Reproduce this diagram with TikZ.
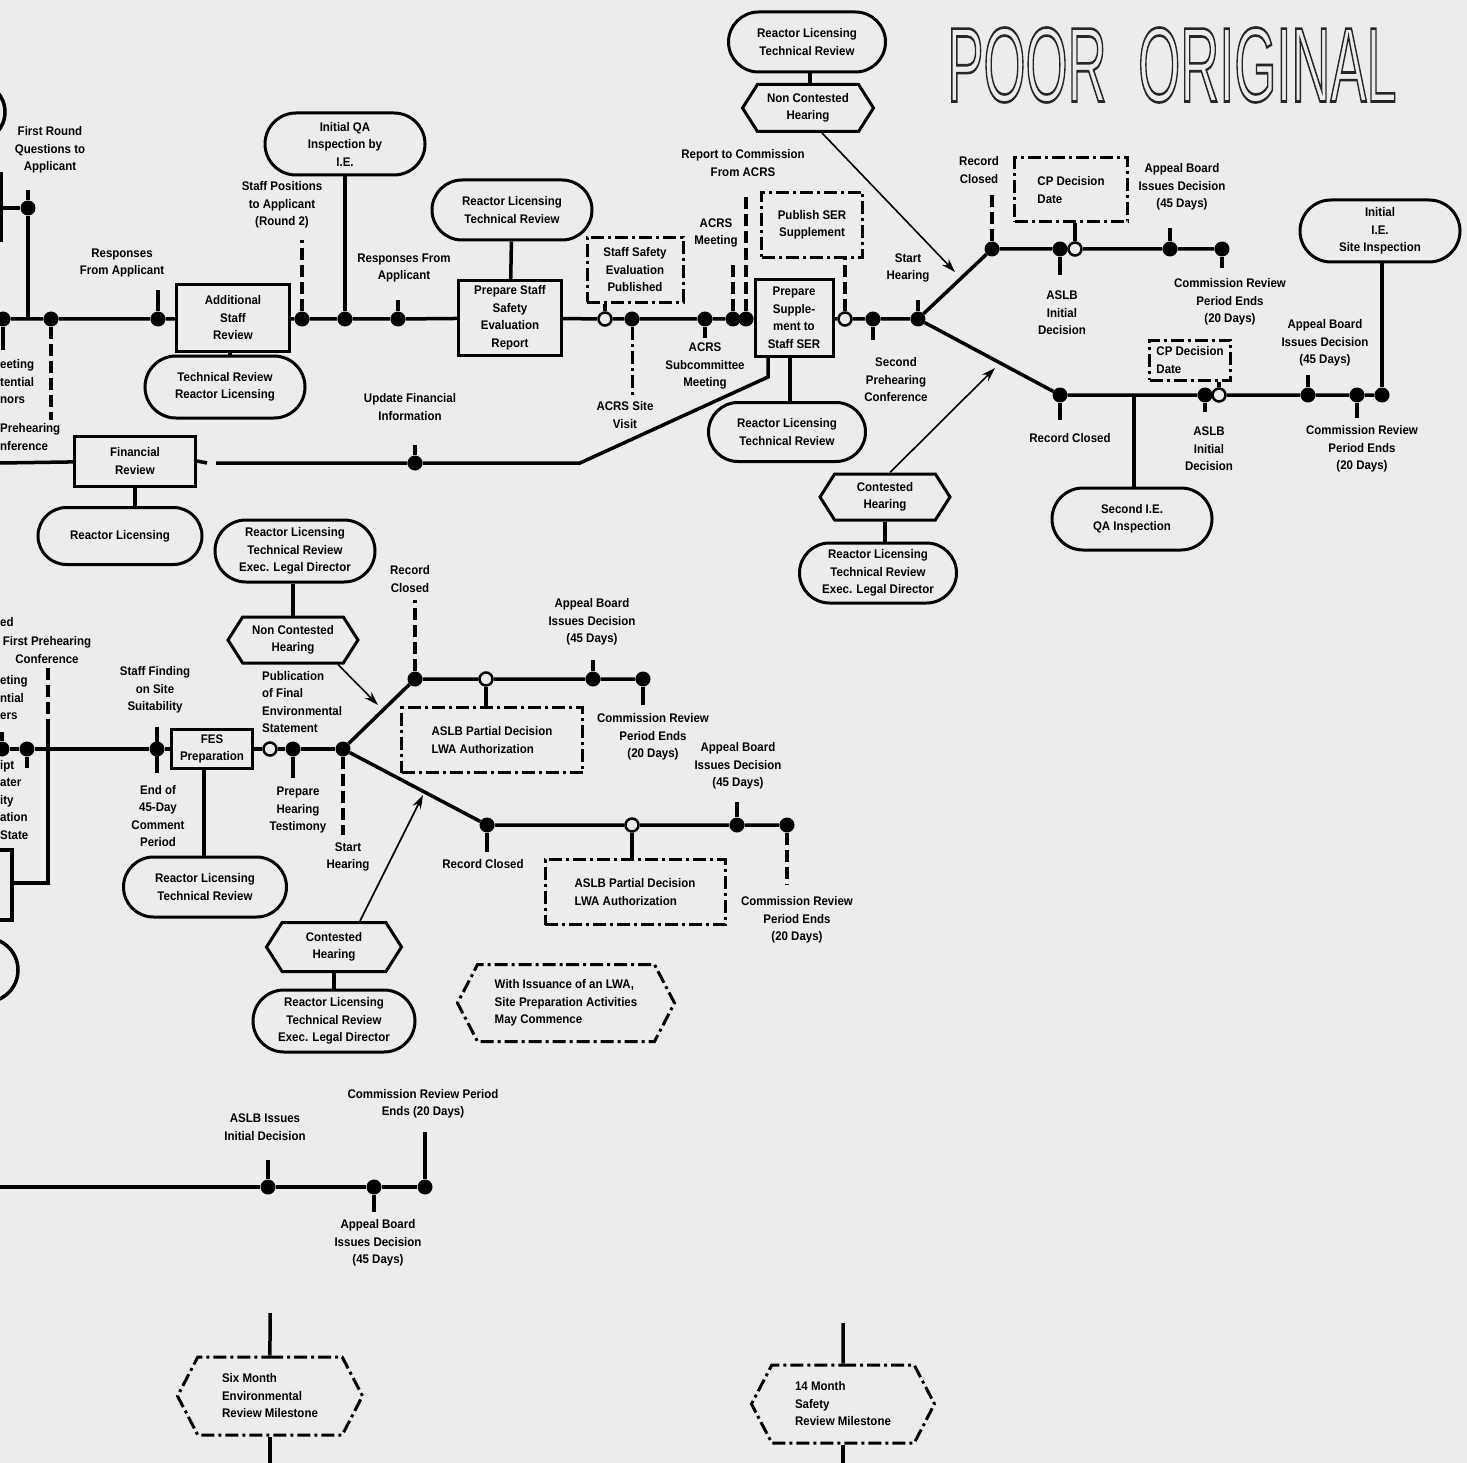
\documentclass[tikz,border=0pt]{standalone}
\usepackage{fontspec}
\usepackage{graphicx}
\newfontfamily\lf{Liberation Sans}[FakeStretch=0.92]
\newfontfamily\lfr{Liberation Sans}
\usetikzlibrary{shapes.misc,shapes.symbols,arrows.meta}
\definecolor{bg}{RGB}{236,236,236}
\newcommand{\lfont}{\lf\bfseries\fontsize{12.5}{17.5}\selectfont}
\newcommand{\poortext}{\scalebox{0.51}[1]{\lfr\fontsize{106}{106}\selectfont POOR\hspace{62pt}ORIGINAL}}
\tikzset{
  ln/.style={line width=3.5pt},
  thinarr/.style={line width=1.6pt,-{Stealth[length=14pt,width=9pt]}},
  ddash/.style={line width=3pt,dash pattern=on 13pt off 4pt on 3pt off 4pt},
  dsh/.style={line width=3.5pt,dash pattern=on 12pt off 5pt},
  bdot/.style={circle,fill=black,inner sep=0pt,minimum size=15pt},
  odot/.style={circle,draw=black,fill=bg,line width=2.5pt,inner sep=0pt,minimum size=13pt},
  sbox/.style={draw,line width=3pt,align=center,font=\lfont,inner sep=0pt},
  ddbox/.style={draw,ddash,align=center,font=\lfont,inner sep=0pt},
  term/.style={draw,rounded rectangle,line width=3pt,align=center,font=\lfont,inner sep=0pt},
  hexa/.style={draw,signal,signal to=east and west,signal pointer angle=115,line width=3pt,align=center,font=\lfont,inner sep=0pt},
  ddhex/.style={hexa,ddash,signal pointer angle=125,align=left},
  lbl/.style={align=center,font=\lfont,inner sep=0pt},
  lbll/.style={align=left,font=\lfont,inner sep=0pt,anchor=west},
  poor/.style={inner sep=0pt},
}
\begin{document}
\begin{tikzpicture}[x=1pt,y=-1pt]
\useasboundingbox (0,0) rectangle (1467,1463);
\fill[bg] (0,0) rectangle (1467,1463);
\clip (0,0) rectangle (1467,1463);

% ---------- POOR ORIGINAL stamp (outlined text) ----------
\node[poor,text=black!85] (stamp) at (1172,65) {\special{pdf:literal direct 1 Tr 2.6 w}\poortext\special{pdf:literal direct 0 Tr}};

% ---------- top section shapes ----------
\node[term,minimum width=160pt,minimum height=62pt] (qa) at (345,144) {Initial QA\\Inspection by\\I.E.};
\node[sbox,minimum width=113pt,minimum height=66pt] (asr) at (233,318) {Additional\\Staff\\Review};
\node[term,minimum width=160pt,minimum height=62pt] (tr1) at (225,387) {Technical Review\\Reactor Licensing};
\node[term,minimum width=160pt,minimum height=60pt] (rl2) at (512,210) {Reactor Licensing\\Technical Review};
\node[sbox,minimum width=103pt,minimum height=74pt] (pss) at (510,318) {Prepare Staff\\Safety\\Evaluation\\Report};
\node[ddbox,minimum width=96pt,minimum height=65pt] (sse) at (635,270) {Staff Safety\\Evaluation\\Published};
\node[sbox,minimum width=78pt,minimum height=77pt] (psup) at (794,318) {Prepare\\Supple-\\ment to\\Staff SER};
\node[ddbox,minimum width=101pt,minimum height=65pt] (pub) at (812,225) {Publish SER\\Supplement};
\node[term,minimum width=157pt,minimum height=59pt] (rl3) at (787,432) {Reactor Licensing\\Technical Review};
\node[term,minimum width=157pt,minimum height=60pt] (rl4) at (807,42) {Reactor Licensing\\Technical Review};
\node[hexa,minimum width=131pt,minimum height=47pt] (nch1) at (808,108) {Non Contested\\Hearing};
\node[sbox,minimum width=121pt,minimum height=50pt] (fin) at (135,461) {Financial\\Review};
\node[term,minimum width=164pt,minimum height=57pt] (rlf) at (120,536) {Reactor Licensing};
\node[ddbox,align=left,minimum width=113pt,minimum height=64pt] (cp1) at (1071,190) {CP Decision\\Date};
\node[ddbox,align=left,minimum width=81pt,minimum height=40pt] (cp2) at (1190,360) {CP Decision\\Date};
\node[term,minimum width=160pt,minimum height=62pt] (sqa) at (1132,519) {Second I.E.\\QA Inspection};
\node[term,minimum width=160pt,minimum height=62pt] (ies) at (1380,231) {Initial\\I.E.\\Site Inspection};
\node[hexa,minimum width=130pt,minimum height=46pt] (ch1) at (885,497) {Contested\\Hearing};
\node[term,minimum width=157pt,minimum height=60pt] (rl5) at (878,573) {Reactor Licensing\\Technical Review\\Exec. Legal Director};

% left edge fragments (top)
\draw[ln] (-25,112) circle[radius=30pt];
\draw[ln] (1,172) -- (1,242);

% ---------- top main line ----------
\node[bdot] (d0) at (3,319) {};
\node[bdot] (d1) at (28,208) {};
\node[bdot] (d2) at (51,319) {};
\node[bdot] (d3) at (158,319) {};
\node[bdot] (d4) at (302,319) {};
\node[bdot] (d5) at (345,319) {};
\node[bdot] (d6) at (398,319) {};
\node[odot] (o1) at (605,319) {};
\node[bdot] (d7) at (632,319) {};
\node[bdot] (d8) at (705,319) {};
\node[bdot] (d9) at (733,319) {};
\node[bdot] (d10) at (746,319) {};
\node[odot] (o2) at (845,319) {};
\node[bdot] (d11) at (873,319) {};
\node[bdot] (fk1) at (918,319) {};
\coordinate (j1) at (28,319);
\draw[ln] (0,319) -- (d0) -- (d2) -- (d3) -- (asr) -- (d4) -- (d5) -- (d6) -- (pss) -- (o1) -- (d7) -- (d8) -- (d9) -- (d10) -- (psup) -- (o2) -- (d11) -- (fk1);
\draw[ln] (d0) -- (3,350);
\draw[ln] (0,208) -- (d1) -- (j1);
\draw[ln] (d1) -- (28,190);
\draw[dsh] (d2) -- (51,420);
\draw[ln] (d3) -- (158,290);
\draw[dsh] (d4) -- (302,240);
\draw[ln] (d5) -- (qa);
\draw[ln] (d6) -- (398,300);
\draw[ln] (o1) -- (o1 |- sse.south);
\draw[ddash] (d7) -- (632,395);
\draw[ln] (d8) -- (705,338);
\draw[dsh] (d9) -- (733,265);
\draw[dsh] (d10) -- (746,195);
\draw[dsh] (o2) -- (o2 |- pub.south);
\draw[ln] (d11) -- (873,340);
\draw[ln] (fk1) -- (918,300);
\draw[ln] ([xshift=-3pt]asr.south) -- ([xshift=-3pt]asr.south |- tr1.north);
\draw[ln] (rl2) -- (pss);
\draw[ln] ([xshift=-4pt]psup.south) -- ([xshift=-4pt]psup.south |- rl3.north);
\draw[ln] ([xshift=3pt]rl4.south) -- ([xshift=3pt]rl4.south |- nch1.north);
\draw[ln] (fin.south) -- (fin.south |- rlf.north);
\draw[ln] (ch1.south) -- (ch1.south |- rl5.north);

% ---------- financial line ----------
\node[bdot] (d12) at (415,463) {};
\coordinate (fa) at (216,463);
\coordinate (fb) at (580,463);
\coordinate (fc) at (768,377);
\draw[ln] (0,463) -- (fin);
\draw[ln] (fin.east) -- (207,463);
\draw[ln] (fa) -- (d12) -- (fb) -- (fc) -- (fc |- psup.south);
\draw[ln] (d12) -- (415,445);

% ---------- upper branch (top) ----------
\node[bdot] (u1) at (992,249) {};
\node[bdot] (u2) at (1060,249) {};
\node[odot] (uo) at (1075,249) {};
\node[bdot] (u3) at (1170,249) {};
\node[bdot] (u4) at (1222,249) {};
\draw[ln] (fk1) -- (u1) -- (u2) -- (uo) -- (u3) -- (u4);
\draw[dsh] (u1) -- (992,195);
\draw[ln] (u2) -- (1060,275);
\draw[ln] (uo) -- (uo |- cp1.south);
\draw[ln] (u3) -- (1170,228);
\draw[ln] (u4) -- (1222,268);

% ---------- lower branch (top) ----------
\node[bdot] (l1) at (1060,395) {};
\coordinate (lj) at (1134,395);
\node[bdot] (l2) at (1205,395) {};
\node[odot] (lo) at (1219,395) {};
\node[bdot] (l3) at (1308,395) {};
\node[bdot] (l4) at (1357,395) {};
\node[bdot] (l5) at (1382,395) {};
\draw[ln] (fk1) -- (l1) -- (l2) -- (lo) -- (l3) -- (l4) -- (l5);
\draw[ln] (lj) -- (lj |- sqa.north);
\draw[ln] (l1) -- (1060,420);
\draw[ln] (l2) -- (1205,412);
\draw[ln] (lo) -- (lo |- cp2.south);
\draw[ln] (l3) -- (1308,375);
\draw[ln] (l4) -- (1357,418);
\draw[ln] (l5) -- (l5 |- ies.south);

% arrows (top)
\coordinate (a1) at (955,272);
\coordinate (a2) at (995,368);
\draw[thinarr] ([xshift=14pt]nch1.south) -- (a1);
\draw[thinarr] ([xshift=5pt]ch1.north) -- (a2);

% ---------- top labels ----------
\node[lbl] (t1) at (50,150) {First Round\\Questions to\\Applicant};
\node[lbl] (t2) at (122,263) {Responses\\From Applicant};
\node[lbl] (t3) at (282,205) {Staff Positions\\to Applicant\\(Round 2)};
\node[lbl] (t4) at (404,268) {Responses From\\Applicant};
\node[lbl] (t5) at (743,163) {Report to Commission\\From ACRS};
\node[lbl] (t6) at (716,233) {ACRS\\Meeting};
\node[lbl] (t7) at (705,366) {ACRS\\Subcommittee\\Meeting};
\node[lbl] (t8) at (625,415) {ACRS Site\\Visit};
\node[lbl] (t9) at (410,407) {Update Financial\\Information};
\node[lbl] (t10) at (908,268) {Start\\Hearing};
\node[lbl] (t11) at (896,380) {Second\\Prehearing\\Conference};
\node[lbl] (t12) at (979,170) {Record\\Closed};
\node[lbl] (t13) at (1182,187) {Appeal Board\\Issues Decision\\(45 Days)};
\node[lbl] (t14) at (1062,313) {ASLB\\Initial\\Decision};
\node[lbl] (t15) at (1230,302) {Commission Review\\Period Ends\\(20 Days)};
\node[lbl] (t16) at (1325,343) {Appeal Board\\Issues Decision\\(45 Days)};
\node[lbl] (t17) at (1070,438) {Record Closed};
\node[lbl] (t18) at (1209,449) {ASLB\\Initial\\Decision};
\node[lbl] (t19) at (1362,449) {Commission Review\\Period Ends\\(20 Days)};
\node[lbll] (t20) at (0,382) {eeting\\tential\\nors};
\node[lbll] (t21) at (0,437) {Prehearing\\nference};

% ---------- middle section shapes ----------
\node[term,minimum width=160pt,minimum height=62pt] (rl6) at (295,551) {Reactor Licensing\\Technical Review\\Exec. Legal Director};
\node[hexa,minimum width=130pt,minimum height=46pt] (nch2) at (293,640) {Non Contested\\Hearing};
\node[sbox,minimum width=81pt,minimum height=39pt] (fes) at (212,749) {FES\\Preparation};
\node[term,minimum width=163pt,minimum height=60pt] (rl7) at (205,887) {Reactor Licensing\\Technical Review};
\node[ddbox,align=left,minimum width=181pt,minimum height=65pt] (lwa1) at (492,740) {ASLB Partial Decision\\LWA Authorization};
\node[ddbox,align=left,minimum width=180pt,minimum height=65pt] (lwa2) at (635,892) {ASLB Partial Decision\\LWA Authorization};
\node[hexa,minimum width=135pt,minimum height=49pt] (ch2) at (334,947) {Contested\\Hearing};
\node[term,minimum width=162pt,minimum height=62pt] (rl8) at (334,1021) {Reactor Licensing\\Technical Review\\Exec. Legal Director};
\node[ddhex,minimum width=217pt,minimum height=77pt] (lwa) at (566,1003) {With Issuance of an LWA,\\Site Preparation Activities\\May Commence};

% left edge fragments (middle)
\draw[ln] (-5,850) rectangle (12,920);
\draw[ln] (-14,970) circle[radius=32pt];
\coordinate (v1) at (48,668);
\coordinate (v2) at (48,720);
\coordinate (v3) at (48,883);
\coordinate (v4) at (12,883);
\draw[dsh] (v1) -- (v2);
\draw[ln] (v2) -- (v3) -- (v4);

% ---------- middle main line ----------
\node[bdot] (m0) at (2,749) {};
\node[bdot] (m1) at (27,749) {};
\node[bdot] (m2) at (157,749) {};
\node[odot] (mo) at (270,749) {};
\node[bdot] (m3) at (293,749) {};
\node[bdot] (mfk) at (343,749) {};
\draw[ln] (m0) -- (m1) -- (m2) -- (fes) -- (mo) -- (m3) -- (mfk);
\draw[ln] (m0) -- (2,732);
\draw[ln] (m1) -- (27,768);
\draw[ln] (157,727) -- (157,773);
\draw[ln] (m3) -- (293,778);
\draw[dsh] (mfk) -- (343,835);
\draw[ln] ([xshift=-8pt]fes.south) -- ([xshift=-8pt]fes.south |- rl7.north);
\draw[ln] (nch2.north) -- (nch2.north |- rl6.south);
\draw[ln] (ch2.south) -- (ch2.south |- rl8.north);

\node[bdot] (mu1) at (415,679) {};
\node[odot] (muo) at (486,679) {};
\node[bdot] (mu2) at (593,679) {};
\node[bdot] (mu3) at (643,679) {};
\draw[ln] (mfk) -- (mu1) -- (muo) -- (mu2) -- (mu3);
\draw[dsh] (mu1) -- (415,600);
\draw[ln] (muo) -- (muo |- lwa1.north);
\draw[ln] (mu2) -- (593,660);
\draw[ln] (mu3) -- (643,705);

\node[bdot] (ml1) at (487,825) {};
\node[odot] (mlo) at (632,825) {};
\node[bdot] (ml2) at (737,825) {};
\node[bdot] (ml3) at (787,825) {};
\draw[ln] (mfk) -- (ml1) -- (mlo) -- (ml2) -- (ml3);
\draw[ln] (ml1) -- (487,852);
\draw[ln] (mlo) -- (mlo |- lwa2.north);
\draw[ln] (ml2) -- (737,802);
\draw[dsh] (ml3) -- (787,885);

\coordinate (a3) at (378,705);
\coordinate (a4) at (423,795);
\draw[thinarr] ([xshift=45pt]nch2.south) -- (a3);
\draw[thinarr] ([xshift=26pt]ch2.north) -- (a4);

% ---------- middle labels ----------
\node[lbll] (s1) at (0,622) {ed};
\node[lbl] (s2) at (47,650) {First Prehearing\\Conference};
\node[lbll] (s3) at (0,698) {eting\\ntial\\ers};
\node[lbll] (s4) at (0,800) {ipt\\ater\\ity\\ation\\State};
\node[lbl] (s5) at (155,690) {Staff Finding\\on Site\\Suitability};
\node[lbl] (s6) at (158,816) {End of\\45-Day\\Comment\\Period};
\node[lbll] (s7) at (262,702) {Publication\\of Final\\Environmental\\Statement};
\node[lbl] (s8) at (298,810) {Prepare\\Hearing\\Testimony};
\node[lbl] (s9) at (348,857) {Start\\Hearing};
\node[lbl] (s10) at (410,579) {Record\\Closed};
\node[lbl] (s11) at (592,622) {Appeal Board\\Issues Decision\\(45 Days)};
\node[lbl] (s12) at (653,737) {Commission Review\\Period Ends\\(20 Days)};
\node[lbl] (s13) at (483,864) {Record Closed};
\node[lbl] (s14) at (738,766) {Appeal Board\\Issues Decision\\(45 Days)};
\node[lbl] (s15) at (797,920) {Commission Review\\Period Ends\\(20 Days)};

% ---------- bottom line ----------
\node[bdot] (b1) at (268,1187) {};
\node[bdot] (b2) at (374,1187) {};
\node[bdot] (b3) at (425,1187) {};
\draw[ln] (0,1187) -- (b1) -- (b2) -- (b3);
\draw[ln] (b1) -- (268,1160);
\draw[ln] (b2) -- (374,1212);
\draw[ln] (b3) -- (425,1132);
\node[lbl] (c1) at (265,1127) {ASLB Issues\\Initial Decision};
\node[lbl] (c2) at (378,1243) {Appeal Board\\Issues Decision\\(45 Days)};
\node[lbl] (c3) at (423,1104) {Commission Review Period\\Ends (20 Days)};

% ---------- milestones ----------
\node[ddhex,minimum width=185pt,minimum height=78pt] (six) at (270,1396) {Six Month\\Environmental\\Review Milestone};
\node[ddhex,minimum width=183pt,minimum height=78pt] (fourteen) at (843,1404) {14 Month\\Safety\\Review Milestone};
\coordinate (e1) at (270,1313);
\coordinate (e2) at (270,1463);
\coordinate (e3) at (843,1323);
\coordinate (e4) at (843,1463);
\draw[ln] (e1) -- (six);
\draw[ln] (six) -- (e2);
\draw[ln] (e3) -- (fourteen);
\draw[ln] (fourteen) -- (e4);
\end{tikzpicture}
\end{document}
